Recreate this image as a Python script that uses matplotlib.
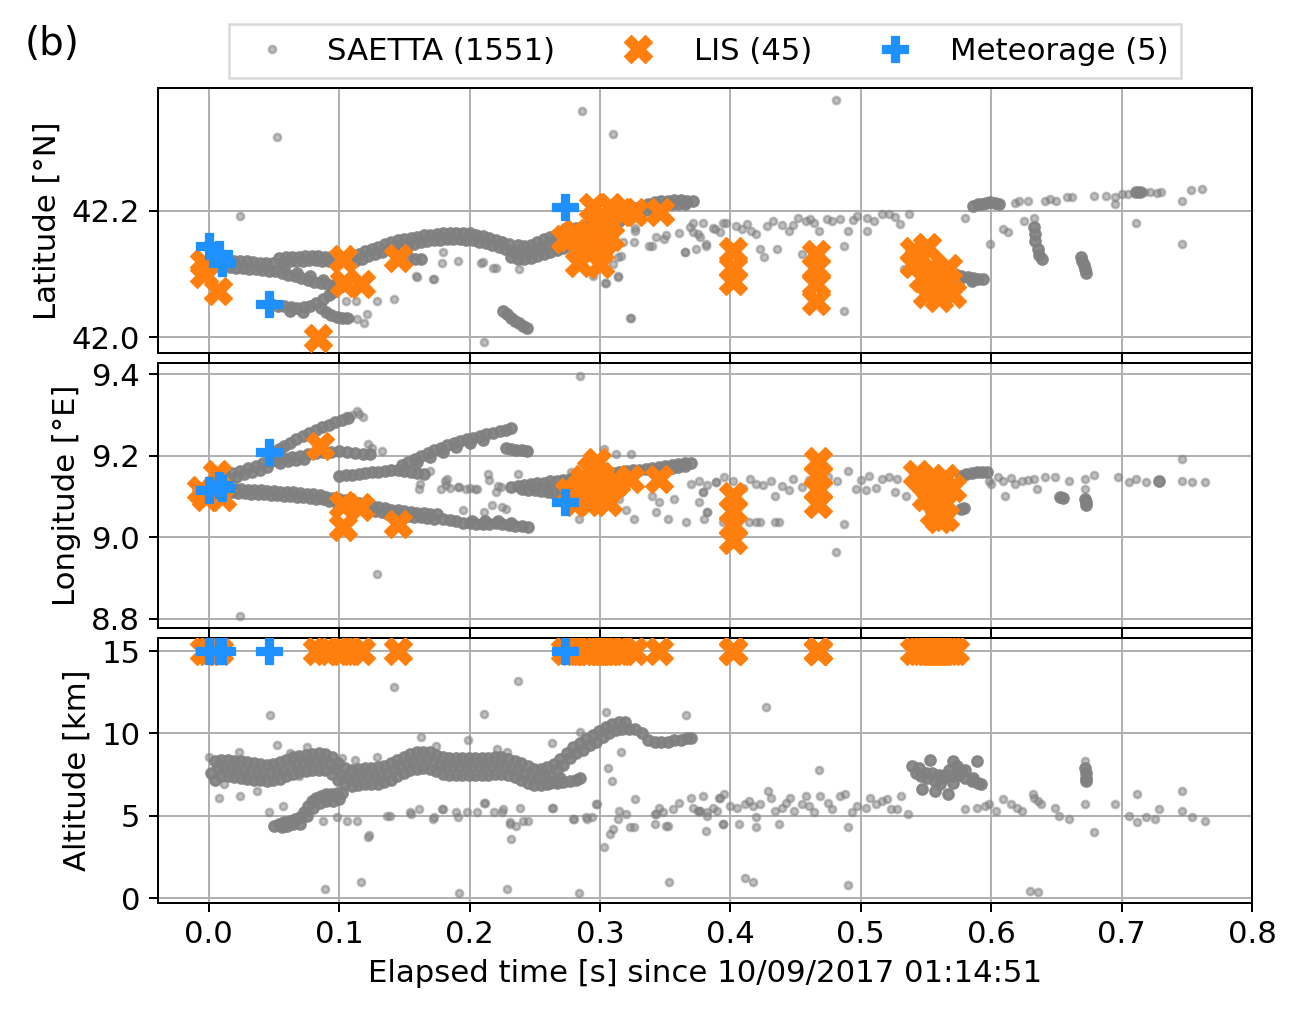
import numpy as np
import matplotlib
matplotlib.use("Agg")
import matplotlib.pyplot as plt
from matplotlib.lines import Line2D

# ---------------- data ----------------
# SAETTA sources, latitude panel: dense tracks (overlapping dots) and isolated dots
lat_dense = [
    (0.004, 42.124), (0.009, 42.123), (0.014, 42.122), (0.019, 42.121), (0.024, 42.121),
    (0.029, 42.12), (0.034, 42.119), (0.039, 42.118), (0.044, 42.117), (0.049, 42.117),
    (0.006, 42.113), (0.011, 42.112), (0.016, 42.111), (0.021, 42.11), (0.026, 42.109),
    (0.031, 42.108), (0.036, 42.107), (0.041, 42.106), (0.046, 42.105),
    (0.054, 42.125), (0.059, 42.126), (0.064, 42.127), (0.069, 42.127), (0.074, 42.128),
    (0.079, 42.128), (0.084, 42.128), (0.089, 42.127), (0.094, 42.126), (0.099, 42.124),
    (0.057, 42.119), (0.062, 42.12), (0.067, 42.121), (0.072, 42.121), (0.077, 42.122),
    (0.082, 42.122), (0.087, 42.121), (0.092, 42.12), (0.097, 42.119),
    (0.051, 42.104), (0.056, 42.101), (0.061, 42.098), (0.066, 42.096), (0.071, 42.093),
    (0.076, 42.091), (0.081, 42.088), (0.086, 42.086), (0.091, 42.084), (0.096, 42.081),
    (0.101, 42.079), (0.058, 42.107), (0.068, 42.101), (0.078, 42.096), (0.088, 42.091),
    (0.098, 42.086),
    (0.048, 42.052), (0.053, 42.05), (0.058, 42.049), (0.063, 42.047), (0.068, 42.046),
    (0.073, 42.047), (0.078, 42.05), (0.082, 42.054), (0.086, 42.046), (0.09, 42.04),
    (0.094, 42.035), (0.098, 42.032), (0.102, 42.03), (0.106, 42.03), (0.088, 42.06),
    (0.092, 42.066), (0.095, 42.072), (0.062, 42.041), (0.072, 42.04),
    (0.105, 42.125), (0.11, 42.128), (0.115, 42.132), (0.12, 42.136), (0.125, 42.14),
    (0.13, 42.143), (0.135, 42.147), (0.14, 42.15), (0.145, 42.153), (0.15, 42.155),
    (0.155, 42.157), (0.16, 42.159), (0.165, 42.161), (0.17, 42.162), (0.175, 42.163),
    (0.18, 42.164), (0.185, 42.165), (0.19, 42.165), (0.195, 42.165), (0.2, 42.164),
    (0.205, 42.162), (0.21, 42.16), (0.215, 42.157), (0.22, 42.154), (0.225, 42.151),
    (0.23, 42.147),
    (0.1075, 42.117), (0.1125, 42.12), (0.1175, 42.124), (0.1225, 42.128), (0.1275, 42.132),
    (0.1325, 42.135), (0.1375, 42.139), (0.1425, 42.142), (0.1475, 42.145), (0.1525, 42.146),
    (0.1575, 42.148), (0.1625, 42.15), (0.1675, 42.152), (0.1725, 42.153), (0.1775, 42.154),
    (0.1825, 42.155), (0.1875, 42.155), (0.1925, 42.155), (0.1975, 42.154), (0.2025, 42.153),
    (0.2075, 42.151), (0.2125, 42.149), (0.2175, 42.146), (0.2225, 42.143), (0.2275, 42.139),
    (0.2325, 42.136), (0.153, 42.126), (0.158, 42.124), (0.163, 42.123),
    (0.237, 42.146), (0.242, 42.144), (0.247, 42.146), (0.252, 42.15), (0.257, 42.155),
    (0.262, 42.159), (0.267, 42.163), (0.272, 42.167), (0.277, 42.17), (0.282, 42.173),
    (0.287, 42.176), (0.292, 42.179), (0.297, 42.182), (0.302, 42.185), (0.307, 42.188),
    (0.312, 42.192), (0.317, 42.196), (0.322, 42.2), (0.327, 42.204), (0.332, 42.208),
    (0.337, 42.211), (0.342, 42.213), (0.347, 42.215), (0.352, 42.216), (0.357, 42.217),
    (0.362, 42.217), (0.367, 42.216), (0.371, 42.215),
    (0.235, 42.136), (0.24, 42.133), (0.245, 42.134), (0.25, 42.138), (0.255, 42.142),
    (0.26, 42.146), (0.265, 42.15), (0.27, 42.153), (0.275, 42.156), (0.28, 42.159),
    (0.285, 42.162), (0.29, 42.165), (0.295, 42.168), (0.3, 42.171), (0.305, 42.174),
    (0.31, 42.178), (0.315, 42.183), (0.32, 42.188), (0.325, 42.192), (0.33, 42.197),
    (0.335, 42.201), (0.34, 42.205), (0.345, 42.207), (0.35, 42.209), (0.355, 42.21),
    (0.36, 42.21), (0.365, 42.21),
    (0.232, 42.126), (0.237, 42.124), (0.242, 42.123), (0.247, 42.125), (0.252, 42.128),
    (0.257, 42.131), (0.262, 42.135), (0.267, 42.138), (0.272, 42.141), (0.277, 42.144),
    (0.282, 42.147), (0.287, 42.15), (0.292, 42.153), (0.297, 42.156), (0.302, 42.16),
    (0.307, 42.164),
    (0.226, 42.041), (0.229, 42.036), (0.232, 42.031), (0.235, 42.026), (0.238, 42.022),
    (0.241, 42.018), (0.244, 42.015),
    (0.545, 42.12), (0.55, 42.11), (0.555, 42.1), (0.56, 42.095), (0.565, 42.09),
    (0.572, 42.1), (0.577, 42.097), (0.582, 42.095), (0.586, 42.093), (0.59, 42.092),
    (0.594, 42.092), (0.575, 42.09), (0.585, 42.089),
    (0.586, 42.208), (0.59, 42.21), (0.593, 42.211), (0.596, 42.212), (0.599, 42.213),
    (0.603, 42.212), (0.606, 42.211),
    (0.633, 42.174), (0.634, 42.163), (0.634, 42.152), (0.636, 42.14), (0.637, 42.13),
    (0.639, 42.124), (0.669, 42.126), (0.67, 42.12), (0.671, 42.114), (0.672, 42.108),
    (0.673, 42.102), (0.711, 42.229), (0.714, 42.229),
]
lat_sparse = [
    (0.024, 42.191), (0.052, 42.316), (0.286, 42.357), (0.31, 42.321), (0.211, 41.992),
    (0.324, 42.031), (0.142, 42.061), (0.129, 42.057), (0.172, 42.092), (0.159, 42.096),
    (0.179, 42.118), (0.191, 42.121), (0.209, 42.118), (0.218, 42.11), (0.238, 42.107),
    (0.225, 42.152), (0.231, 42.137), (0.305, 42.086), (0.295, 42.097), (0.314, 42.097),
    (0.316, 42.129), (0.327, 42.168), (0.338, 42.144), (0.105, 42.057), (0.113, 42.057),
    (0.121, 42.036), (0.119, 42.022), (0.114, 42.028), (0.108, 42.03), (0.16, 42.095),
    (0.173, 42.092), (0.18, 42.134), (0.21, 42.119), (0.22, 42.11), (0.327, 42.172),
    (0.326, 42.15), (0.318, 42.15), (0.314, 42.126), (0.314, 42.095), (0.304, 42.085),
    (0.31, 42.116), (0.343, 42.158), (0.351, 42.161), (0.361, 42.164), (0.365, 42.134),
    (0.374, 42.14), (0.371, 42.18), (0.379, 42.18), (0.381, 42.148), (0.387, 42.172),
    (0.394, 42.18), (0.323, 42.03),
    (0.34, 42.144), (0.349, 42.155), (0.365, 42.134), (0.369, 42.174), (0.375, 42.163),
    (0.381, 42.144), (0.388, 42.171), (0.397, 42.181), (0.413, 42.179), (0.42, 42.163),
    (0.423, 42.139), (0.426, 42.126), (0.433, 42.184), (0.436, 42.139), (0.445, 42.168),
    (0.452, 42.189), (0.455, 42.131), (0.461, 42.187), (0.468, 42.168), (0.474, 42.187),
    (0.487, 42.144), (0.49, 42.168), (0.497, 42.192), (0.505, 42.189), (0.505, 42.168),
    (0.516, 42.195), (0.522, 42.195), (0.53, 42.179), (0.537, 42.195), (0.487, 42.041),
    (0.481, 42.375), (0.533, 42.107), (0.58, 42.189), (0.599, 42.147), (0.609, 42.171),
    (0.613, 42.166), (0.621, 42.216), (0.625, 42.184), (0.633, 42.189), (0.641, 42.216),
    (0.65, 42.216), (0.658, 42.221), (0.679, 42.224), (0.695, 42.221), (0.695, 42.211),
    (0.705, 42.226), (0.711, 42.181), (0.717, 42.229), (0.727, 42.228), (0.746, 42.216),
    (0.746, 42.148), (0.753, 42.233), (0.762, 42.234), (0.371, 42.166), (0.377, 42.158),
    (0.392, 42.166), (0.404, 42.176), (0.409, 42.171), (0.416, 42.168), (0.428, 42.175),
    (0.44, 42.178), (0.448, 42.177), (0.458, 42.183), (0.464, 42.18), (0.478, 42.183),
    (0.484, 42.187), (0.494, 42.185), (0.51, 42.183), (0.526, 42.19), (0.618, 42.212),
    (0.628, 42.216), (0.645, 42.218), (0.662, 42.222), (0.688, 42.224), (0.7, 42.227),
    (0.722, 42.229), (0.73, 42.229),
]

# SAETTA sources, longitude panel
lon_dense = [
    (0.005, 9.123), (0.01, 9.121), (0.015, 9.12), (0.02, 9.119), (0.025, 9.118),
    (0.03, 9.117), (0.035, 9.116), (0.04, 9.115), (0.045, 9.114), (0.05, 9.113),
    (0.055, 9.112), (0.06, 9.111), (0.065, 9.11), (0.07, 9.109), (0.075, 9.107),
    (0.08, 9.105), (0.085, 9.103), (0.09, 9.1), (0.095, 9.097), (0.1, 9.094),
    (0.0075, 9.113), (0.0125, 9.111), (0.0175, 9.11), (0.0225, 9.109), (0.0275, 9.108),
    (0.0325, 9.107), (0.0375, 9.106), (0.0425, 9.105), (0.0475, 9.104), (0.0525, 9.103),
    (0.0575, 9.102), (0.0625, 9.101), (0.0675, 9.1), (0.0725, 9.099), (0.0775, 9.097),
    (0.0825, 9.095), (0.0875, 9.093), (0.0925, 9.09), (0.0975, 9.087),
    (0.105, 9.091), (0.11, 9.087), (0.115, 9.084), (0.12, 9.081), (0.125, 9.077),
    (0.13, 9.074), (0.135, 9.071), (0.14, 9.068), (0.145, 9.066), (0.15, 9.064),
    (0.155, 9.062), (0.16, 9.06), (0.165, 9.059), (0.17, 9.057), (0.175, 9.056),
    (0.1025, 9.081), (0.1075, 9.077), (0.1125, 9.074), (0.1175, 9.071), (0.1225, 9.067),
    (0.1275, 9.064), (0.1325, 9.061), (0.1375, 9.058), (0.1425, 9.056), (0.1475, 9.054),
    (0.1525, 9.052), (0.1575, 9.05), (0.1625, 9.049), (0.1675, 9.047), (0.1725, 9.046),
    (0.18, 9.046), (0.185, 9.043), (0.19, 9.04), (0.195, 9.036), (0.2, 9.034),
    (0.205, 9.032), (0.21, 9.032), (0.215, 9.033), (0.22, 9.034), (0.225, 9.032),
    (0.23, 9.03), (0.235, 9.028), (0.24, 9.027), (0.245, 9.026), (0.202, 9.04),
    (0.212, 9.039), (0.222, 9.04), (0.232, 9.036),
    (0.012, 9.152), (0.018, 9.158), (0.024, 9.163), (0.03, 9.169), (0.036, 9.175),
    (0.042, 9.181), (0.048, 9.187), (0.015, 9.143), (0.021, 9.149), (0.027, 9.154),
    (0.033, 9.16), (0.039, 9.166), (0.045, 9.172),
    (0.05, 9.21), (0.054, 9.216), (0.058, 9.224), (0.062, 9.232), (0.067, 9.24),
    (0.072, 9.248), (0.077, 9.256), (0.082, 9.263), (0.087, 9.27), (0.092, 9.276),
    (0.097, 9.282), (0.102, 9.288), (0.107, 9.293),
    (0.052, 9.19), (0.058, 9.194), (0.064, 9.197), (0.07, 9.2), (0.076, 9.203),
    (0.082, 9.206), (0.088, 9.208), (0.094, 9.21), (0.1, 9.212), (0.106, 9.21),
    (0.112, 9.207), (0.118, 9.205), (0.124, 9.203), (0.055, 9.182), (0.061, 9.186),
    (0.067, 9.19), (0.073, 9.193),
    (0.1, 9.15), (0.105, 9.152), (0.11, 9.153), (0.115, 9.155), (0.12, 9.157),
    (0.125, 9.159), (0.13, 9.161), (0.135, 9.163), (0.14, 9.164), (0.145, 9.165),
    (0.15, 9.163), (0.155, 9.16), (0.16, 9.158), (0.165, 9.155),
    (0.148, 9.178), (0.153, 9.185), (0.158, 9.192), (0.163, 9.199), (0.168, 9.206),
    (0.173, 9.213), (0.178, 9.22), (0.183, 9.227), (0.188, 9.232), (0.193, 9.236),
    (0.198, 9.24), (0.203, 9.244), (0.208, 9.248), (0.213, 9.252), (0.218, 9.256),
    (0.223, 9.26), (0.228, 9.264), (0.232, 9.267), (0.16, 9.185), (0.17, 9.198),
    (0.18, 9.21), (0.19, 9.222), (0.2, 9.23), (0.21, 9.238),
    (0.228, 9.218), (0.232, 9.216), (0.236, 9.214), (0.24, 9.213), (0.244, 9.212),
    (0.232, 9.124), (0.237, 9.126), (0.242, 9.128), (0.247, 9.13), (0.252, 9.132),
    (0.257, 9.134), (0.262, 9.137), (0.267, 9.139), (0.272, 9.141), (0.277, 9.143),
    (0.24, 9.118), (0.245, 9.116), (0.25, 9.115), (0.255, 9.113), (0.26, 9.11),
    (0.265, 9.108), (0.27, 9.105), (0.25, 9.124), (0.26, 9.122), (0.27, 9.12),
    (0.28, 9.118),
    (0.285, 9.145), (0.29, 9.147), (0.295, 9.149), (0.3, 9.151), (0.305, 9.154),
    (0.31, 9.157), (0.315, 9.16), (0.32, 9.162), (0.325, 9.164), (0.33, 9.166),
    (0.335, 9.168), (0.34, 9.17), (0.345, 9.172), (0.35, 9.175), (0.355, 9.177),
    (0.36, 9.179), (0.365, 9.181), (0.37, 9.182), (0.35, 9.168), (0.355, 9.17),
    (0.36, 9.173), (0.365, 9.175),
    (0.577, 9.15), (0.581, 9.155), (0.585, 9.158), (0.589, 9.16), (0.593, 9.161),
    (0.597, 9.16), (0.577, 9.07), (0.579, 9.072), (0.672, 9.094), (0.673, 9.087),
    (0.673, 9.08), (0.653, 9.098), (0.655, 9.097), (0.729, 9.137),
]
lon_sparse = [
    (0.285, 9.394), (0.129, 8.91), (0.024, 8.808), (0.161, 9.119), (0.181, 9.139),
    (0.178, 9.119), (0.192, 9.123), (0.206, 9.119), (0.214, 9.155), (0.217, 9.078),
    (0.228, 9.07), (0.195, 9.066), (0.211, 9.062), (0.237, 9.155), (0.122, 9.228),
    (0.125, 9.22), (0.133, 9.212), (0.105, 9.296), (0.114, 9.31), (0.115, 9.302),
    (0.118, 9.294), (0.11, 9.3), (0.162, 9.13), (0.185, 9.12), (0.2, 9.12),
    (0.222, 9.125), (0.215, 9.14), (0.225, 9.075), (0.303, 9.216), (0.312, 9.204),
    (0.324, 9.204), (0.284, 9.045), (0.32, 9.066), (0.326, 9.045), (0.315, 9.094),
    (0.34, 9.102), (0.343, 9.062), (0.345, 9.086), (0.352, 9.045), (0.357, 9.094),
    (0.366, 9.037), (0.376, 9.086), (0.382, 9.062), (0.379, 9.111), (0.37, 9.131),
    (0.382, 9.127), (0.389, 9.135), (0.278, 9.159), (0.284, 9.106), (0.224, 9.123),
    (0.24, 9.123), (0.22, 9.11), (0.197, 9.119), (0.204, 9.119), (0.191, 9.123),
    (0.183, 9.143), (0.182, 9.127), (0.17, 9.163), (0.245, 9.212),
    (0.376, 9.139), (0.379, 9.111), (0.382, 9.062), (0.38, 9.046), (0.389, 9.135),
    (0.395, 9.147), (0.402, 9.139), (0.405, 9.111), (0.415, 9.143), (0.42, 9.131),
    (0.423, 9.037), (0.431, 9.139), (0.434, 9.102), (0.437, 9.037), (0.448, 9.143),
    (0.455, 9.123), (0.475, 9.147), (0.482, 9.139), (0.49, 9.163), (0.487, 9.033),
    (0.481, 8.964), (0.496, 9.119), (0.504, 9.115), (0.506, 9.151), (0.516, 9.143),
    (0.522, 9.147), (0.528, 9.143), (0.526, 9.111), (0.535, 9.102), (0.58, 9.151),
    (0.589, 9.159), (0.598, 9.139), (0.609, 9.139), (0.611, 9.102), (0.624, 9.139),
    (0.633, 9.143), (0.635, 9.119), (0.641, 9.147), (0.649, 9.147), (0.66, 9.137),
    (0.672, 9.143), (0.672, 9.119), (0.672, 9.094), (0.679, 9.153), (0.697, 9.147),
    (0.706, 9.135), (0.711, 9.143), (0.719, 9.135), (0.746, 9.193), (0.746, 9.139),
    (0.754, 9.135), (0.764, 9.135), (0.394, 9.037), (0.414, 9.037), (0.42, 9.037),
    (0.434, 9.037), (0.41, 9.122), (0.425, 9.128), (0.44, 9.125), (0.445, 9.115),
    (0.46, 9.14), (0.465, 9.13), (0.47, 9.14), (0.5, 9.14), (0.512, 9.12),
    (0.6, 9.13), (0.615, 9.145), (0.618, 9.13), (0.628, 9.14), (0.605, 9.148),
]

# SAETTA sources, altitude panel
alt_dense = [
    (0.002, 7.6), (0.007, 7.9), (0.012, 7.9), (0.017, 7.9), (0.022, 7.8), (0.027, 7.8),
    (0.032, 7.7), (0.037, 7.7), (0.042, 7.6), (0.047, 7.6), (0.052, 7.7), (0.057, 7.8),
    (0.062, 8.0), (0.067, 8.1), (0.072, 8.2), (0.077, 8.2), (0.082, 8.3), (0.087, 8.3),
    (0.092, 8.2), (0.097, 7.9), (0.102, 7.5), (0.107, 7.3), (0.112, 7.3), (0.117, 7.4),
    (0.122, 7.4), (0.127, 7.4), (0.132, 7.5), (0.137, 7.6), (0.142, 7.8), (0.147, 8.0),
    (0.152, 8.2), (0.157, 8.3), (0.162, 8.4), (0.167, 8.4), (0.172, 8.3), (0.177, 8.1),
    (0.182, 8.0), (0.187, 8.0), (0.192, 8.0), (0.197, 8.0), (0.202, 8.0), (0.207, 8.0),
    (0.212, 8.0), (0.217, 8.0), (0.222, 8.1), (0.227, 8.0), (0.232, 7.9), (0.237, 7.8),
    (0.242, 7.6), (0.247, 7.4), (0.252, 7.3), (0.257, 7.4), (0.262, 7.5), (0.267, 7.8),
    (0.272, 8.1), (0.277, 8.5), (0.282, 8.8), (0.287, 9.0), (0.292, 9.3), (0.297, 9.5),
    (0.302, 9.8), (0.307, 10.0), (0.312, 10.2), (0.317, 10.3), (0.322, 10.3),
    (0.327, 10.3), (0.332, 10.0), (0.337, 9.6), (0.342, 9.5), (0.347, 9.5), (0.352, 9.5),
    (0.357, 9.6), (0.362, 9.6), (0.367, 9.7), (0.37, 9.7),
    (0.0045, 8.3), (0.0095, 8.4), (0.0145, 8.4), (0.0195, 8.35), (0.0245, 8.3),
    (0.0295, 8.25), (0.0345, 8.2), (0.0395, 8.15), (0.0445, 8.1), (0.0495, 8.15),
    (0.0545, 8.25), (0.0595, 8.4), (0.0645, 8.55), (0.0695, 8.65), (0.0745, 8.7),
    (0.0795, 8.75), (0.0845, 8.8), (0.0895, 8.75), (0.0945, 8.55), (0.0995, 8.2),
    (0.1045, 7.9), (0.1095, 7.8), (0.1145, 7.85), (0.1195, 7.9), (0.1245, 7.9),
    (0.1295, 7.95), (0.1345, 8.05), (0.1395, 8.2), (0.1445, 8.4), (0.1495, 8.6),
    (0.1545, 8.75), (0.1595, 8.85), (0.1645, 8.9), (0.1695, 8.85), (0.1745, 8.7),
    (0.1795, 8.55), (0.1845, 8.5), (0.1895, 8.5), (0.1945, 8.5), (0.1995, 8.5),
    (0.2045, 8.5), (0.2095, 8.5), (0.2145, 8.5), (0.2195, 8.55), (0.2245, 8.55),
    (0.2295, 8.45), (0.2345, 8.35), (0.2395, 8.2), (0.2445, 8.0), (0.2495, 7.85),
    (0.2545, 7.85), (0.2595, 7.95), (0.2645, 8.15), (0.2695, 8.45), (0.2745, 8.8),
    (0.2795, 9.15), (0.2845, 9.4), (0.2895, 9.65), (0.2945, 9.9), (0.2995, 10.15),
    (0.3045, 10.4), (0.3095, 10.6), (0.3145, 10.7), (0.3195, 10.7),
    (0.0045, 7.2), (0.0095, 7.4), (0.0145, 7.4), (0.0195, 7.35), (0.0245, 7.3),
    (0.0295, 7.25), (0.0345, 7.2), (0.0395, 7.15), (0.0445, 7.1), (0.0495, 7.15),
    (0.0545, 7.25), (0.0595, 7.4), (0.0645, 7.55), (0.0695, 7.65), (0.0745, 7.7),
    (0.0795, 7.75), (0.0845, 7.8), (0.0895, 7.75), (0.0945, 7.55), (0.0995, 7.2),
    (0.1045, 6.9), (0.1095, 6.8), (0.1145, 6.85), (0.1195, 6.9), (0.1245, 6.9),
    (0.1295, 6.95), (0.1345, 7.05), (0.1395, 7.2), (0.1445, 7.4), (0.1495, 7.6),
    (0.1545, 7.75), (0.1595, 7.85), (0.1645, 7.9), (0.1695, 7.85), (0.1745, 7.7),
    (0.1795, 7.55), (0.1845, 7.5), (0.1895, 7.5), (0.1945, 7.5), (0.1995, 7.5),
    (0.2045, 7.5), (0.2095, 7.5), (0.2145, 7.5), (0.2195, 7.55), (0.2245, 7.55),
    (0.2295, 7.45), (0.2345, 7.35), (0.2395, 7.2), (0.2445, 7.0), (0.2495, 6.85),
    (0.2545, 6.85), (0.2595, 6.95), (0.2645, 7.1), (0.2695, 7.3),
    (0.262, 7.0), (0.267, 7.0), (0.272, 7.05), (0.277, 7.1), (0.282, 7.2), (0.285, 7.3),
    (0.05, 4.4), (0.054, 4.5), (0.058, 4.6), (0.062, 4.7), (0.066, 4.8), (0.07, 4.9),
    (0.073, 5.2), (0.076, 5.6), (0.079, 5.9), (0.082, 6.1), (0.086, 6.2), (0.09, 6.3),
    (0.094, 6.3), (0.098, 6.4), (0.102, 6.4), (0.06, 4.4), (0.065, 4.5), (0.056, 4.3),
    (0.075, 5.0), (0.08, 5.5), (0.085, 5.8), (0.09, 5.9), (0.095, 5.9), (0.1, 6.0),
    (0.07, 4.5),
    (0.539, 8.0), (0.542, 7.6), (0.546, 7.4), (0.551, 7.3), (0.557, 7.1), (0.563, 7.3),
    (0.568, 7.8), (0.574, 8.0), (0.58, 7.8), (0.586, 7.3), (0.592, 6.9), (0.553, 8.4),
    (0.571, 8.3), (0.589, 8.3), (0.557, 6.5), (0.567, 6.3), (0.547, 6.6), (0.545, 7.9),
    (0.55, 7.6), (0.555, 7.6), (0.56, 7.5), (0.565, 7.5), (0.57, 7.4), (0.575, 7.5),
    (0.58, 7.3), (0.585, 7.1), (0.59, 7.0), (0.561, 6.9), (0.571, 7.0), (0.577, 7.7),
    (0.672, 7.9), (0.673, 7.6), (0.673, 7.3), (0.673, 7.1),
]
alt_sparse = [
    (0.142, 12.8), (0.237, 13.2), (0.047, 11.1), (0.211, 11.2), (0.305, 11.3),
    (0.366, 11.1), (0.089, 0.55), (0.117, 1.0), (0.192, 0.3), (0.229, 0.55),
    (0.284, 0.3), (0.353, 1.0), (0.008, 6.1), (0.024, 6.2), (0.037, 6.5),
    (0.012, 6.9), (0.046, 5.2), (0.057, 5.6), (0.122, 3.7), (0.137, 5.0),
    (0.154, 5.2), (0.161, 5.4), (0.172, 4.8), (0.179, 5.4), (0.19, 5.2),
    (0.211, 5.8), (0.231, 4.5), (0.232, 3.6), (0.239, 5.5), (0.245, 4.7),
    (0.263, 5.5), (0.279, 4.8), (0.29, 4.8), (0.298, 5.7), (0.303, 3.1),
    (0.308, 3.9), (0.315, 5.3), (0.32, 5.1), (0.327, 6.0), (0.326, 4.3),
    (0.343, 5.1), (0.351, 4.4), (0.361, 5.8), (0.37, 6.1), (0.381, 4.1),
    (0.375, 5.3), (0.39, 5.3), (0.263, 9.4), (0.285, 10.1), (0.309, 7.1),
    (0.316, 8.9), (0.199, 9.6), (0.163, 9.8), (0.129, 8.6), (0.075, 9.2),
    (0.052, 9.3), (0.0, 8.6), (0.023, 8.9), (0.062, 8.8), (0.069, 7.4),
    (0.102, 8.5), (0.112, 8.4), (0.123, 3.8), (0.174, 9.25), (0.221, 9.05),
    (0.229, 8.85), (0.212, 5.8), (0.139, 5.0), (0.155, 5.1), (0.173, 4.9),
    (0.18, 5.4), (0.191, 4.9), (0.198, 5.2), (0.206, 5.2), (0.219, 5.2),
    (0.225, 5.2), (0.088, 4.7), (0.098, 4.9), (0.106, 4.7), (0.114, 4.7),
    (0.306, 7.9), (0.297, 5.7), (0.264, 5.5), (0.28, 4.8), (0.289, 4.9),
    (0.294, 4.9), (0.314, 4.8), (0.323, 4.3), (0.31, 4.2), (0.342, 5.1),
    (0.345, 5.5), (0.348, 5.2), (0.342, 4.5), (0.352, 4.4), (0.356, 5.4),
    (0.371, 5.5), (0.377, 5.3), (0.379, 6.2), (0.382, 5.0), (0.387, 5.5),
    (0.392, 6.1), (0.394, 4.5), (0.231, 4.6), (0.236, 4.4), (0.226, 5.4),
    (0.241, 4.7),
    (0.376, 5.3), (0.382, 5.2), (0.391, 6.1), (0.395, 6.3), (0.394, 4.5),
    (0.407, 4.5), (0.411, 5.7), (0.414, 5.9), (0.42, 4.9), (0.42, 4.3),
    (0.423, 5.7), (0.429, 6.5), (0.427, 11.6), (0.431, 6.1), (0.434, 5.3),
    (0.437, 4.5), (0.446, 6.1), (0.449, 5.3), (0.455, 5.7), (0.458, 6.2),
    (0.464, 5.2), (0.468, 7.8), (0.469, 6.2), (0.475, 5.8), (0.484, 6.2),
    (0.488, 6.3), (0.49, 4.3), (0.49, 0.8), (0.493, 5.2), (0.504, 5.5),
    (0.507, 6.1), (0.516, 5.9), (0.52, 6.0), (0.531, 6.2), (0.528, 5.4),
    (0.536, 5.1), (0.411, 1.2), (0.417, 1.0), (0.63, 0.45), (0.636, 0.37),
    (0.58, 5.4), (0.589, 5.5), (0.598, 5.7), (0.604, 5.3), (0.609, 6.0),
    (0.615, 5.7), (0.624, 5.3), (0.633, 6.1), (0.638, 5.7), (0.649, 5.5),
    (0.652, 5.0), (0.66, 4.8), (0.672, 5.7), (0.672, 8.3), (0.679, 4.0),
    (0.695, 5.7), (0.706, 5.0), (0.712, 4.6), (0.712, 6.3), (0.719, 4.9),
    (0.726, 4.8), (0.729, 5.4), (0.746, 6.5), (0.746, 5.3), (0.754, 4.9),
    (0.764, 4.7), (0.4, 5.6), (0.405, 5.5), (0.417, 5.6), (0.44, 5.5),
    (0.443, 5.8), (0.46, 5.6), (0.478, 5.4), (0.497, 5.6), (0.512, 5.7),
    (0.523, 5.4), (0.632, 6.3), (0.636, 5.9), (0.595, 5.6), (0.62, 5.5),
]

# LIS events (t [s], value)
lis_lat = [
    (-0.004, 42.118), (-0.004, 42.1), (0.007, 42.073), (0.084, 41.998), (0.103, 42.124),
    (0.104, 42.085), (0.117, 42.084), (0.145, 42.125), (0.273, 42.156), (0.277, 42.158),
    (0.284, 42.117), (0.287, 42.148), (0.29, 42.16), (0.295, 42.206), (0.297, 42.182),
    (0.297, 42.142), (0.3, 42.116), (0.303, 42.174), (0.303, 42.153), (0.308, 42.206),
    (0.308, 42.158), (0.318, 42.198), (0.326, 42.198), (0.346, 42.198), (0.281, 42.165),
    (0.402, 42.137), (0.402, 42.11), (0.402, 42.089), (0.466, 42.131), (0.466, 42.11),
    (0.466, 42.084), (0.466, 42.057), (0.541, 42.137), (0.551, 42.142), (0.541, 42.115),
    (0.554, 42.11), (0.56, 42.1), (0.548, 42.094), (0.567, 42.11), (0.551, 42.068),
    (0.56, 42.062), (0.57, 42.068), (0.557, 42.078), (0.545, 42.125), (0.565, 42.09),
]
lis_lon = [
    (-0.006, 9.115), (-0.002, 9.1), (0.006, 9.155), (0.01, 9.098), (0.085, 9.224),
    (0.103, 9.078), (0.116, 9.074), (0.103, 9.025), (0.145, 9.033), (0.276, 9.111),
    (0.282, 9.086), (0.288, 9.143), (0.29, 9.086), (0.295, 9.102), (0.298, 9.184),
    (0.3, 9.151), (0.306, 9.086), (0.306, 9.119), (0.312, 9.135), (0.323, 9.143),
    (0.345, 9.143), (0.285, 9.12), (0.293, 9.165), (0.3, 9.13), (0.29, 9.11),
    (0.402, 9.102), (0.402, 9.065), (0.402, 9.029), (0.402, 8.993), (0.467, 9.188),
    (0.467, 9.151), (0.467, 9.119), (0.467, 9.082), (0.543, 9.155), (0.548, 9.14),
    (0.553, 9.12), (0.558, 9.1), (0.563, 9.08), (0.56, 9.045), (0.565, 9.05),
    (0.556, 9.06), (0.56, 9.13), (0.565, 9.145), (0.55, 9.1), (0.57, 9.12),
]
lis_alt_t = [-0.004, 0.0, 0.008, 0.083, 0.09, 0.1, 0.103, 0.108, 0.117, 0.145,
             0.273, 0.278, 0.282, 0.286, 0.29, 0.293, 0.297, 0.3, 0.303, 0.306,
             0.309, 0.313, 0.318, 0.326, 0.345, 0.402, 0.402, 0.402, 0.467, 0.467,
             0.467, 0.467, 0.541, 0.545, 0.548, 0.551, 0.554, 0.557, 0.56, 0.563,
             0.566, 0.569, 0.572, 0.3, 0.29]
lis_alt = [15.0] * len(lis_alt_t)

# Meteorage strokes
met_t = [0.0, 0.008, 0.01, 0.046, 0.273]
met_lat = [42.144, 42.131, 42.118, 42.052, 42.206]
met_lon = [9.115, 9.127, 9.12, 9.208, 9.086]
met_alt = [15.0, 15.0, 15.0, 15.0, 15.0]

labels = ["SAETTA (1551)", "LIS (45)", "Meteorage (5)"]
ylabels = ["Latitude [°N]", "Longitude [°E]", "Altitude [km]"]

# ---------------- plotting ----------------
GRAY = "gray"
ORANGE = "#ff7f0e"
BLUE = "#1e90ff"
DOT = dict(ls="", marker="o", color=GRAY, ms=2.9, mew=1.0)

plt.rcParams["font.size"] = 12.3

fig, axes = plt.subplots(3, 1, sharex=True, figsize=(1294 / 180, 1014 / 180), dpi=180)
fig.subplots_adjust(left=0.122, right=0.9675, top=0.9132, bottom=0.1095, hspace=0.038)

panels = [
    (lat_dense, lat_sparse, np.array(lis_lat), met_lat, (41.975, 42.394), [42.0, 42.2]),
    (lon_dense, lon_sparse, np.array(lis_lon), met_lon, (8.778, 9.427), [8.8, 9.0, 9.2, 9.4]),
    (alt_dense, alt_sparse, np.column_stack([lis_alt_t, lis_alt]), met_alt, (-0.3, 15.8), [0, 5, 10, 15]),
]

for ax, (dense, sparse, lis, met_v, ylim, yticks), ylab in zip(axes, panels, ylabels):
    d = np.array(dense)
    s = np.array(sparse)
    ax.plot(s[:, 0], s[:, 1], alpha=0.5, zorder=2, **DOT)
    # overlapping sources in the dense tracks merge into a solid band
    ax.plot(d[:, 0], d[:, 1], ls="", marker="o", color=GRAY, ms=4.0, mew=1.1,
            alpha=0.9, zorder=2)
    ax.plot(lis[:, 0], lis[:, 1], "X", color=ORANGE, ms=11, mew=0.5, zorder=3)
    ax.plot(met_t, met_v, "P", color=BLUE, ms=10.5, mew=0.5, zorder=4)
    ax.set_ylim(*ylim)
    ax.set_yticks(yticks)
    ax.set_ylabel(ylab)
    ax.grid(True)
    ax.set_axisbelow(True)

axes[0].set_yticklabels(["42.0", "42.2"])
axes[2].set_xlim(-0.039, 0.8)
axes[2].set_xticks(np.arange(0, 0.81, 0.1))
axes[2].set_xlabel("Elapsed time [s] since 10/09/2017 01:14:51")

handles = [
    Line2D([], [], alpha=0.5, **DOT),
    Line2D([], [], ls="", marker="X", color=ORANGE, ms=11, mew=0.5),
    Line2D([], [], ls="", marker="P", color=BLUE, ms=10.5, mew=0.5),
]
fig.legend(handles, labels, loc="center", bbox_to_anchor=(0.545, 0.9497), ncol=3,
           columnspacing=1.7, fancybox=False, edgecolor="0.85", framealpha=1)
fig.text(0.019, 0.975, "(b)", fontsize=15.5, va="top", ha="left")

fig.savefig("out.png", dpi=180)
